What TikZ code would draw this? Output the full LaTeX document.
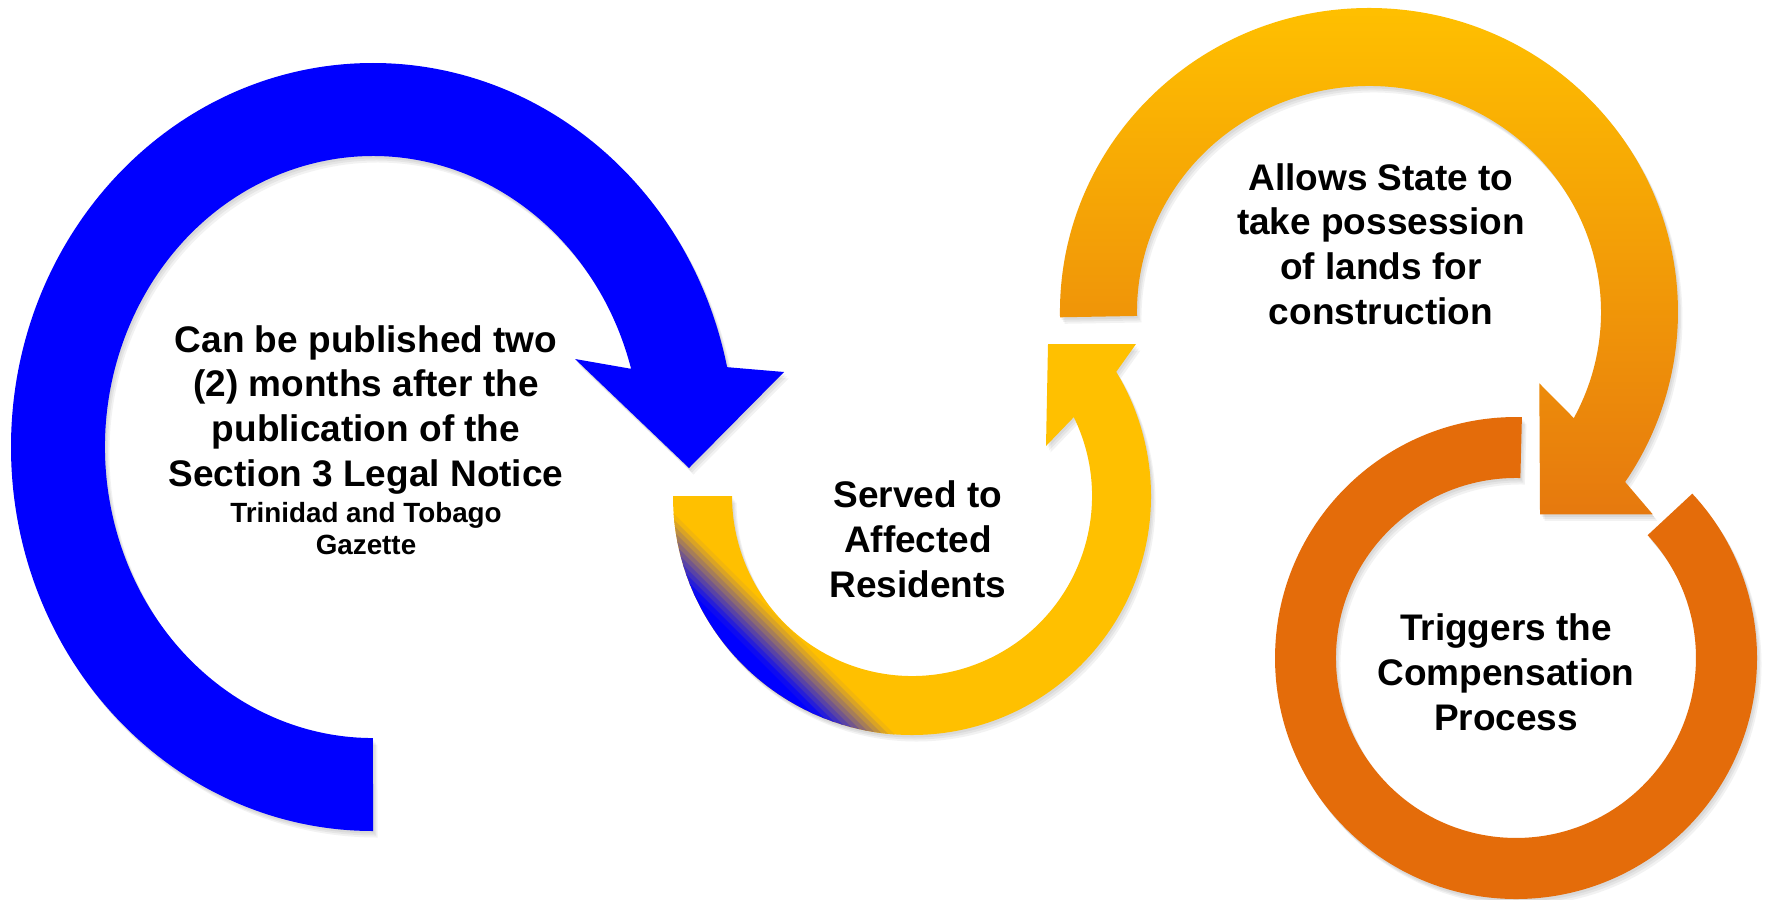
\documentclass[tikz,border=0pt]{standalone}
\usepackage{fontspec}
\setmainfont{Liberation Sans}
\definecolor{ylw}{HTML}{FFC000}
\definecolor{blu}{HTML}{0000FF}
\definecolor{org}{HTML}{E46C0A}
\definecolor{orgmid}{HTML}{F8B000}
\definecolor{orgbot}{HTML}{E6790E}
\tikzset{
  txt/.style={font=\bfseries\fontsize{18.5}{22.3}\selectfont, align=center, inner sep=0pt, text=black},
  smalltxt/.style={font=\bfseries\fontsize{13.9}{16}\selectfont, align=center, inner sep=0pt, text=black},
  shadowfill/.style={fill=black, opacity=0.05},
}
\def\pathBlue{(373,831) arc[start angle=90, end angle=348, x radius=362, y radius=384] -- (784,372) -- (689,468) -- (575,359) -- (631.1,368.8) arc[start angle=344.4, end angle=90, x radius=268, y radius=291] -- cycle}
\def\pathYel{(673,496) arc[start angle=180, end angle=-31.3, radius=239] -- (1136,344) -- (1048,344) -- (1046,446) -- (1073.8,417.1) arc[start angle=-26, end angle=180, radius=180] -- cycle}
\def\pathOrg{(1060,317.3) arc[start angle=179, end angle=394, x radius=309, y radius=304] -- (1652.7,514.3) -- (1540,514.3) -- (1539.3,383.3) -- (1573.8,418.1) arc[start angle=388, end angle=179, x radius=232, y radius=226] -- cycle}
\def\pathCirc{(1521.9,417.1) arc[start angle=271.4, end angle=-43, radius=241] -- (1647.6,535.2) arc[start angle=-43, end angle=271.4, radius=180] -- cycle}
\begin{document}
\begin{tikzpicture}[x=0.5pt, y=-0.5pt]
\useasboundingbox (0,0) rectangle (1765,899);
\fill[white] (0,0) rectangle (1765,899);
% soft shadows
\foreach \dx/\dy in {1.5/2.5, 3/4.5, 4.5/6.5}{
  \fill[shadowfill, shift={(\dx,\dy)}] \pathBlue;
  \fill[shadowfill, shift={(\dx,\dy)}] \pathYel;
  \fill[shadowfill, shift={(\dx,\dy)}] \pathOrg;
  \fill[shadowfill, shift={(\dx,\dy)}] \pathCirc;
}
% blue arrow
\fill[blu] \pathBlue;
% yellow arrow with blue blend
\fill[ylw] \pathYel;
\begin{scope}
  \clip \pathYel;
  \fill[blu] (500,400) -- (900,800) -- (0,800) -- (0,400) -- cycle;
  \foreach \i in {0,...,9}{
    \pgfmathsetmacro\ca{160-6*\i}
    \pgfmathsetmacro\cb{153-6*\i}
    \pgfmathsetmacro\pp{(\i+0.5)*10}
    \fill[blu!\pp!ylw] ({\ca+400},400) -- ({\ca+800},800) -- ({\cb+800},800) -- ({\cb+400},400) -- cycle;
  }
\end{scope}
% upper orange arrow (gradient)
\shade[top color=ylw, middle color=orgmid, bottom color=orgbot] \pathOrg;
% lower orange circle arrow
\fill[org] \pathCirc;
% texts (base anchor = baseline of last line)
\node[txt, anchor=base] (blueText) at (366,486) {Can be published two\\(2) months after the\\publication of the\\Section 3 Legal Notice};
\node[smalltxt, anchor=base] (gazette) at (366,554) {Trinidad and Tobago\\Gazette};
\node[txt, anchor=base] (served) at (918,597) {Served to\\Affected\\Residents};
\node[txt, anchor=base] (allows) at (1381,324) {Allows State to\\take possession\\of lands for\\construction};
\node[txt, anchor=base] (triggers) at (1506,730) {Triggers the\\Compensation\\Process};
\end{tikzpicture}
\end{document}
